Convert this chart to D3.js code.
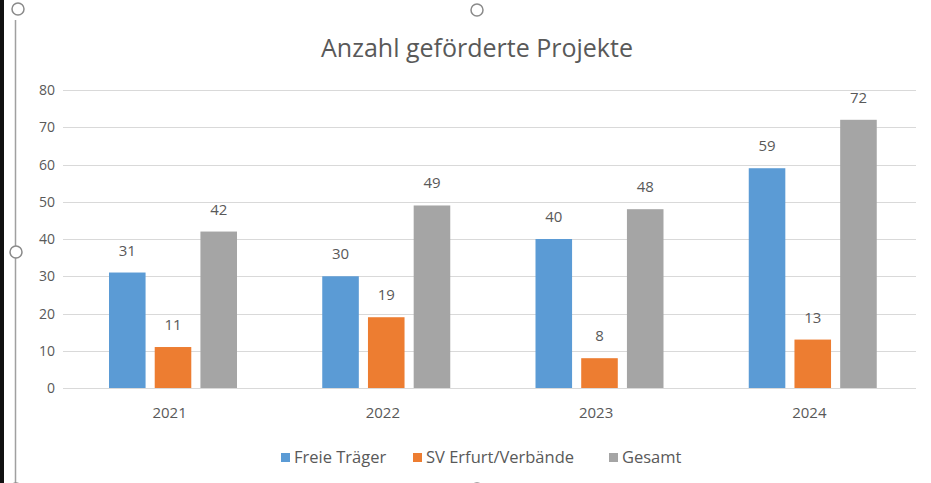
<!DOCTYPE html>
<html>
<head>
<meta charset="utf-8">
<script src="https://cdn.jsdelivr.net/npm/d3@7"></script>
<style>
  body { margin: 0; background: #fff; }
  text { font-family: "Open Sans", sans-serif; fill: #595959; }
</style>
</head>
<body>
<script>
// Chart size
let width = 931;
let height = 483;

// Data
const years = ["2021", "2022", "2023", "2024"];
const series = ["Freie Träger", "SV Erfurt/Verbände", "Gesamt"];
const freieTraeger = [31, 30, 40, 59];
const svErfurt = [11, 19, 8, 13];
const gesamt = [42, 49, 48, 72];
const yTicks = [0, 10, 20, 30, 40, 50, 60, 70, 80];

const seriesValues = [freieTraeger, svErfurt, gesamt];
const colors = ["#5b9bd5", "#ed7d31", "#a5a5a5"];
const grid_color = "#d9d9d9";

let svg = d3.select("body")
  .append("svg")
  .attr("width", width)
  .attr("height", height);

// Frame of the selected chart object (screenshot look)
svg.append("rect").attr("x", 0).attr("y", 0).attr("width", 4).attr("height", height).attr("fill", "#111");
svg.append("line")
  .attr("x1", 15.5).attr("x2", 15.5).attr("y1", 20).attr("y2", height)
  .attr("stroke", "#a0a0a0").attr("stroke-width", 1.5);
[[18, 9], [477, 10], [16, 252], [477, 489], [16, 489]].forEach(h => {
  svg.append("circle")
    .attr("cx", h[0]).attr("cy", h[1]).attr("r", 6)
    .attr("fill", "#fff").attr("stroke", "#8a8a8a").attr("stroke-width", 1.5);
});

// Scales
const x0 = d3.scaleBand().domain(years).range([63, 916]);
const x1 = d3.scaleBand().domain(d3.range(series.length)).range([46, 174]).paddingInner(0.2);
const y = d3.scaleLinear().domain([0, 80]).range([388, 90]);

// Title
svg.append("text")
  .attr("x", 477).attr("y", 57)
  .attr("text-anchor", "middle")
  .style("font-size", "25px")
  .text("Anzahl geförderte Projekte");

// Gridlines
svg.append("g")
  .selectAll("line")
  .data(yTicks)
  .enter().append("line")
  .attr("x1", 63).attr("x2", 916)
  .attr("y1", d => Math.round(y(d)) + 0.5)
  .attr("y2", d => Math.round(y(d)) + 0.5)
  .attr("stroke", grid_color)
  .attr("stroke-width", 1);

// Y tick labels
svg.append("g")
  .selectAll("text")
  .data(yTicks)
  .enter().append("text")
  .attr("x", 55)
  .attr("y", d => y(d) + 5)
  .attr("text-anchor", "end")
  .style("font-size", "14px")
  .text(d => d);

// Bars
let groups = svg.append("g")
  .selectAll("g")
  .data(years)
  .enter().append("g")
  .attr("transform", d => `translate(${x0(d)},0)`);

groups.selectAll("rect")
  .data((d, i) => seriesValues.map((s, j) => ({ s: j, v: s[i] })))
  .enter().append("rect")
  .attr("x", d => x1(d.s))
  .attr("y", d => y(d.v))
  .attr("width", x1.bandwidth())
  .attr("height", d => y(0) - y(d.v))
  .attr("fill", d => colors[d.s]);

// Data labels
groups.selectAll("text")
  .data((d, i) => seriesValues.map((s, j) => ({ s: j, v: s[i] })))
  .enter().append("text")
  .attr("x", d => x1(d.s) + x1.bandwidth() / 2)
  .attr("y", d => y(d.v) - 17)
  .attr("text-anchor", "middle")
  .style("font-size", "15px")
  .text(d => d.v);

// X axis labels
svg.append("g")
  .selectAll("text")
  .data(years)
  .enter().append("text")
  .attr("x", d => x0(d) + x0.bandwidth() / 2)
  .attr("y", 418)
  .attr("text-anchor", "middle")
  .style("font-size", "15px")
  .text(d => d);

// Legend
const legendX = [281, 413, 609];
let legend = svg.append("g")
  .selectAll("g")
  .data(series)
  .enter().append("g")
  .attr("transform", (d, i) => `translate(${legendX[i]},453)`);

legend.append("rect")
  .attr("width", 9).attr("height", 9)
  .attr("fill", (d, i) => colors[i]);

legend.append("text")
  .attr("x", 13).attr("y", 10)
  .style("font-size", "16.5px")
  .text(d => d);
</script>
</body>
</html>
